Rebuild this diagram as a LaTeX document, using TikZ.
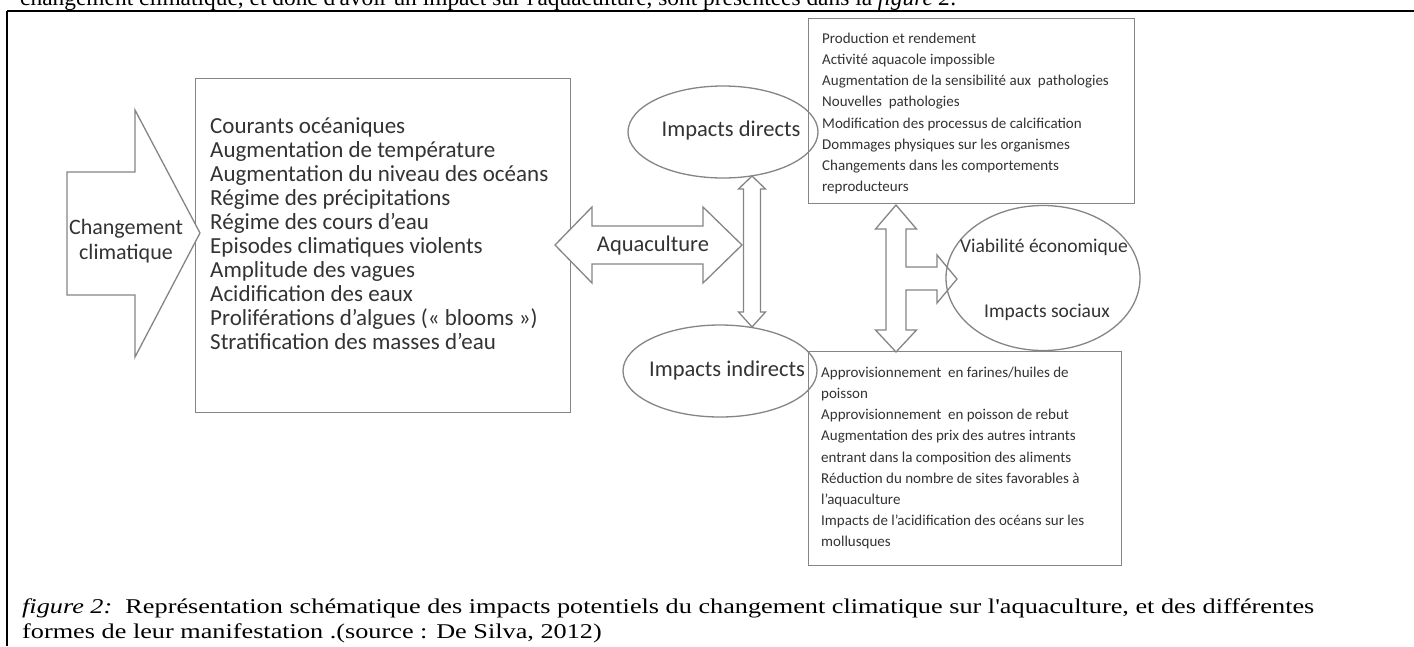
\documentclass[tikz,border=0pt]{standalone}
\usepackage{fontspec}
\setmainfont{Liberation Serif}[Ligatures=TeXOff]
\newfontfamily\cali{Carlito}[Ligatures=TeXOff]
\usetikzlibrary{shapes.geometric}
\definecolor{shapegray}{HTML}{858585}
\definecolor{txtgray}{HTML}{333333}
\begin{document}
\begin{tikzpicture}[x=1pt,y=-1pt,
  frame/.style={line width=2pt, black},
  boxline/.style={draw=shapegray, line width=1.4pt},
  blockarrow/.style={draw=shapegray, line width=1.3pt, fill=white, line join=miter},
  ell/.style={ellipse, draw=shapegray, line width=1.3pt, inner sep=0},
  bigtxt/.style={font=\cali\fontsize{22.5}{24}\selectfont, text=txtgray, inner sep=0},
  listtxt/.style={font=\cali\fontsize{23}{24}\selectfont, text=txtgray, inner sep=0, align=left},
  socitxt/.style={font=\cali\fontsize{19.5}{22}\selectfont, text=txtgray, inner sep=0},
  smalltxt/.style={font=\cali\fontsize{15}{21.1}\selectfont, text=txtgray, inner sep=0, align=left},
  serif/.style={inner sep=0}
]
\useasboundingbox (0,0) rectangle (1414,646);
\clip (0,0) rectangle (1414,646);
\fill[white] (0,0) rectangle (1414,646);

% running text cut at the top
\node[serif, anchor=base west, font=\fontsize{23.4}{27}\selectfont] (toptext) at (20,5)
  {changement climatique, et donc d'avoir un impact sur l'aquaculture, sont présentées dans la \textit{figure 2}.};

% frame
\draw[frame] (7,10.5) -- (1414,10.5);
\draw[frame] (7,10.5) -- (7,646);

% causes box
\node[boxline, rectangle, minimum width=375, minimum height=334, anchor=north west, inner sep=0] (causes) at (195,78) {};
\node[listtxt, anchor=north west] (causestxt) at (210,117)
  {Courants océaniques\\
   Augmentation de température\\
   Augmentation du niveau des océans\\
   Régime des précipitations\\
   Régime des cours d’eau\\
   Episodes climatiques violents\\
   Amplitude des vagues\\
   Acidification des eaux\\
   Proliférations d’algues (« blooms »)\\
   Stratification des masses d’eau};

% Changement climatique arrow
\draw[blockarrow] (67,172) -- (135,172) -- (135,110) -- (200,233) -- (135,357) -- (135,295) -- (67,295) -- cycle;
\node[bigtxt, align=center, font=\cali\fontsize{22}{25}\selectfont] (cc) at (126,241) {Changement\\climatique};

% direct impacts box
\node[boxline, rectangle, minimum width=326, minimum height=185, anchor=north west, inner sep=0] (dbox) at (808,18) {};
\node[smalltxt, anchor=north west] (dtxt) at (822,33)
  {Production et rendement\\
   Activité aquacole impossible\\
   Augmentation de la sensibilité aux\ \ pathologies\\
   Nouvelles\ \ pathologies\\
   Modification des processus de calcification\\
   Dommages physiques sur les organismes\\
   Changements dans les comportements\\
   reproducteurs};

% indirect impacts box
\node[boxline, rectangle, minimum width=313, minimum height=214, anchor=north west, inner sep=0] (ibox) at (808,351) {};
\node[smalltxt, anchor=north west] (itxt) at (821,367)
  {Approvisionnement\ \ en farines/huiles de\\
   poisson\\
   Approvisionnement\ \ en poisson de rebut\\
   Augmentation des prix des autres intrants\\
   entrant dans la composition des aliments\\
   Réduction du nombre de sites favorables à\\
   l’aquaculture\\
   Impacts de l’acidification des océans sur les\\
   mollusques};

% ellipses
\node[ell, minimum width=190, minimum height=92] (direct) at (723,132) {};
\node[bigtxt] (directtxt) at (731,130) {Impacts directs};
\node[ell, minimum width=194, minimum height=92] (indirect) at (720,371) {};
\node[bigtxt] (indirecttxt) at (727,370) {Impacts indirects};

% Aquaculture double arrow
\draw[blockarrow] (555,245) -- (592,207) -- (592,226) -- (703,226) -- (703,207) -- (742,245)
  -- (703,283) -- (703,264) -- (592,264) -- (592,283) -- cycle;
\node[bigtxt] (aqua) at (653,245) {Aquaculture};

% vertical double arrow between direct and indirect
\draw[blockarrow] (752,176) -- (765.5,189) -- (760.5,189) -- (760.5,312) -- (765.5,312) -- (752,327)
  -- (738.5,312) -- (743.5,312) -- (743.5,189) -- (738.5,189) -- cycle;

% socio-economic ellipse
\node[ell, minimum width=194, minimum height=145] (socio) at (1043,278) {};
\node[socitxt] (viab) at (1044,247) {Viabilité économique};
\node[socitxt] (soc) at (1047,312) {Impacts sociaux};

% T-shaped arrow
\draw[blockarrow, fill=none] (896,205) -- (916.5,229) -- (906,229) -- (906,267) -- (937,267) -- (937,255) -- (957,279)
  -- (937,303) -- (937,290) -- (906,290) -- (906,330) -- (916.5,330) -- (896,352) -- (875.5,330)
  -- (886,330) -- (886,229) -- (875.5,229) -- cycle;

% caption
\node[serif, anchor=base west, font=\fontsize{21}{25}\selectfont] (cap1) at (22,613)
  {\scalebox{1.25}[1]{\textit{figure 2:}\ \ Représentation schématique des impacts potentiels du changement climatique sur l'aquaculture, et des différentes}};
\node[serif, anchor=base west, font=\fontsize{21}{25}\selectfont] (cap2) at (22,638)
  {\scalebox{1.25}[1]{formes de leur manifestation .(source : De Silva, 2012)}};
\end{tikzpicture}
\end{document}
